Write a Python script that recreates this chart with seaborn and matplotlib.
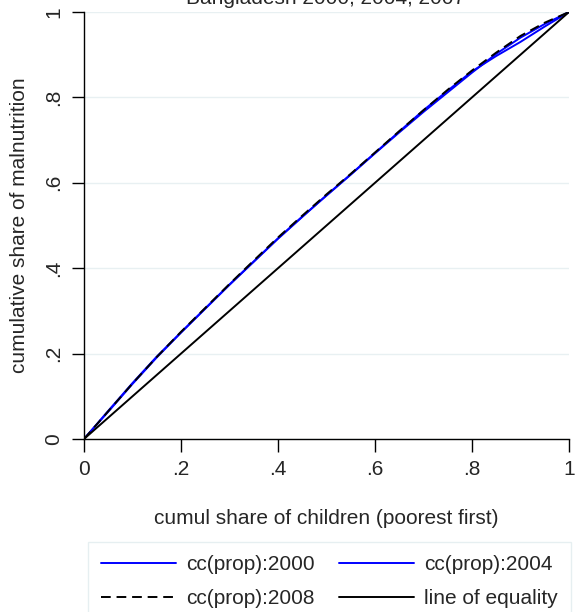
import numpy as np
import pandas as pd
import matplotlib
matplotlib.use('Agg')
import matplotlib.pyplot as plt
import seaborn as sns

# ── Data ─────────────────────────────────────────────────────
share_children = [0, .05, .10, .15, .20, .25, .30, .35, .40, .45, .50,
                  .55, .60, .65, .70, .75, .80, .85, .90, .95, 1.0]
cc_2000 = [0, .066, .131, .193, .250, .306, .362, .416, .470, .521, .570,
           .619, .669, .718, .766, .812, .858, .902, .940, .972, 1.0]
cc_2004 = [0, .064, .129, .191, .249, .305, .361, .415, .469, .520, .571,
           .620, .670, .720, .770, .816, .861, .897, .930, .966, 1.0]
cc_2008 = [0, .065, .130, .192, .251, .307, .363, .418, .472, .523, .573,
           .621, .671, .721, .770, .818, .863, .905, .944, .975, 1.0]
equality = [0, 1]
ticks = [0, .2, .4, .6, .8, 1]
tick_labels = ['0', '.2', '.4', '.6', '.8', '1']

df = pd.DataFrame({'x': share_children, 'y2000': cc_2000,
                   'y2004': cc_2004, 'y2008': cc_2008})

sns.set_style('white')
plt.rcParams['font.family'] = ['Liberation Sans', 'DejaVu Sans']
FS = 15

fig = plt.figure(figsize=(5.75, 6.12), dpi=100, facecolor='white')
ax = fig.add_axes([84/575, 1-439/612, 485/575, 427/612])

sns.lineplot(data=df, x='x', y='y2000', color='#0000FF', lw=1.4,
             label='cc(prop):2000', ax=ax)
sns.lineplot(data=df, x='x', y='y2004', color='#0000FF', lw=1.4,
             label='cc(prop):2004', ax=ax)
sns.lineplot(data=df, x='x', y='y2008', color='black', lw=1.4,
             linestyle=(0, (5, 3)), label='cc(prop):2008', ax=ax)
sns.lineplot(x=equality, y=equality, color='black', lw=1.4,
             label='line of equality', ax=ax)

ax.set_xlim(0, 1)
ax.set_ylim(0, 1)
ax.set_xticks(ticks)
ax.set_xticklabels(tick_labels, fontsize=FS)
ax.set_yticks(ticks)
ax.set_yticklabels(tick_labels, fontsize=FS, rotation=90, va='center')
ax.tick_params(axis='both', direction='out', length=9, width=1,
               color='black', left=True, bottom=True, pad=6)
ax.grid(axis='y', color='#e8f0f2', lw=1)
ax.set_axisbelow(True)
for s in ['top', 'right']:
    ax.spines[s].set_visible(False)
for s in ['left', 'bottom']:
    ax.spines[s].set_color('black')
    ax.spines[s].set_linewidth(1)

ax.set_xlabel('cumul share of children (poorest first)', fontsize=FS,
              labelpad=22)
ax.set_ylabel('cumulative share of malnutrition', fontsize=FS, labelpad=11)

fig.text(326/575, 1-4/612, 'Bangladesh 2000, 2004, 2007', fontsize=FS,
         ha='center', va='baseline')

h, l = ax.get_legend_handles_labels()
order = [0, 2, 1, 3]
leg = ax.legend([h[i] for i in order], [l[i] for i in order], ncol=2,
                loc='upper left', bbox_to_anchor=(88/575, 1-542/612),
                bbox_transform=fig.transFigure, fontsize=FS,
                frameon=True, fancybox=False, handlelength=3.6,
                handletextpad=0.5, columnspacing=1.15, borderpad=0.62,
                borderaxespad=0, labelspacing=0.72)
leg.get_frame().set_edgecolor('#e0ecee')
leg.get_frame().set_linewidth(1)

fig.savefig('out.png', dpi=100, facecolor='white')
